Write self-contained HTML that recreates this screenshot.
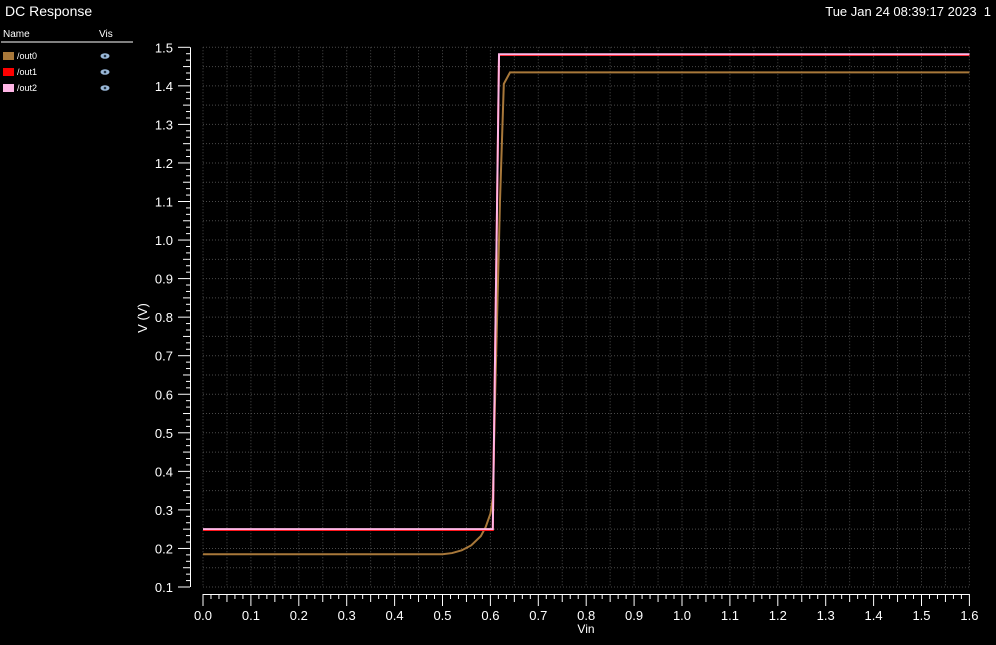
<!DOCTYPE html>
<html><head><meta charset="utf-8"><style>
body{margin:0;background:#000;width:996px;height:640px;overflow:hidden;font-family:"Liberation Sans",sans-serif;color:#fff}
</style></head><body>
<svg width="996" height="640" xmlns="http://www.w3.org/2000/svg">
<text x="5" y="16" font-size="14" fill="#fff">DC Response</text>
<text x="991" y="16" font-size="13" fill="#fff" text-anchor="end" xml:space="preserve" style="white-space:pre">Tue Jan 24 08:39:17 2023  1</text>
<g>
<text x="3" y="37" font-size="10" fill="#fff">Name</text>
<text x="99" y="37" font-size="10" fill="#fff">Vis</text>
<line x1="1" y1="42" x2="133" y2="42" stroke="#fff" stroke-width="1"/>
<g id="leg"></g>
</g>
<g id="grid"></g><g id="axes"></g><g id="series"></g>
<text x="586" y="633" font-size="12" fill="#fff" text-anchor="middle">Vin</text>
<text x="147" y="318" font-size="13" fill="#fff" text-anchor="middle" transform="rotate(-90 147 318)">V (V)</text>
</svg>
<script>
const xTicks=[0,0.1,0.2,0.3,0.4,0.5,0.6,0.7,0.8,0.9,1.0,1.1,1.2,1.3,1.4,1.5,1.6];
const yTicks=[0.1,0.2,0.3,0.4,0.5,0.6,0.7,0.8,0.9,1.0,1.1,1.2,1.3,1.4,1.5];
const out0X=[0,0.5,0.52,0.54,0.56,0.58,0.59,0.6,0.605,0.61,0.62,0.628,0.641,1.6];
const out0Y=[0.185,0.185,0.188,0.195,0.208,0.232,0.255,0.29,0.33,0.6,1.1,1.405,1.435,1.435];
const out1X=[0,0.605,0.618,1.6];
const out1Y=[0.248,0.248,1.48,1.48];
const out2X=[0,0.605,0.618,1.6];
const out2Y=[0.25,0.25,1.482,1.482];
const legNames=["/out0","/out1","/out2"];
const legColors=["#a8783a","#ff0000","#ffb6e6"];
const NS="http://www.w3.org/2000/svg";
const X=v=>203+v*479; const Y=v=>587-(v-0.1)*385.5;
function mk(t,a,p){const e=document.createElementNS(NS,t);for(const k in a)e.setAttribute(k,a[k]);p.appendChild(e);return e;}
const grid=document.getElementById('grid'),axes=document.getElementById('axes'),ser=document.getElementById('series'),leg=document.getElementById('leg');
legNames.forEach((n,i)=>{const y=56+i*16;
 const r=mk('rect',{x:3,y:y-4,width:11,height:8,fill:legColors[i]},leg);
 
 const t=mk('text',{x:17,y:y+3,'font-size':9,fill:'#fff'},leg);t.textContent=n;
 
 const e=mk('ellipse',{cx:105,cy:y,rx:4.5,ry:2.8,fill:'#9ab8d8'},leg);
 
 mk('circle',{cx:105,cy:y,r:1.3,fill:'#234'},leg);
});
const x0=X(0),x1=X(1.6),yT=Y(1.5),yB=Y(0.1);
for(let v=0;v<=1.6001;v+=0.05){const l=mk('line',{x1:X(v),x2:X(v),y1:yT,y2:yB,stroke:'#4a4a4a','stroke-dasharray':'1 2'},grid);}
for(let v=0.1;v<=1.5001;v+=0.05){const l=mk('line',{x1:x0,x2:x1,y1:Y(v),y2:Y(v),stroke:'#4a4a4a','stroke-dasharray':'1 2'},grid);}
const xa=mk('line',{x1:x0,x2:x1,y1:594.5,y2:594.5,stroke:'#fff'},axes);
const ya=mk('line',{x1:190.5,x2:190.5,y1:yT,y2:yB,stroke:'#fff'},axes);
for(let i=0;i<=96;i++){const v=i*1.6/96;const len=i%6==0?12:(i%3==0?8:5);mk('line',{x1:X(v),x2:X(v),y1:594,y2:594+len,stroke:'#fff'},axes);}
for(let i=0;i<=84;i++){const v=0.1+i*1.4/84;const len=i%6==0?12:(i%3==0?7:4);mk('line',{x1:190,x2:190-len,y1:Y(v),y2:Y(v),stroke:'#fff'},axes);}
xTicks.forEach(v=>{const t=mk('text',{x:X(v),y:620,'font-size':13,fill:'#fff','text-anchor':'middle'},axes);t.textContent=v.toFixed(1);});
yTicks.forEach(v=>{const t=mk('text',{x:173,y:Y(v)+5,'font-size':13,fill:'#fff','text-anchor':'end'},axes);t.textContent=v.toFixed(1);});
function line(xs,ys,c,w,name){const p=mk('polyline',{points:xs.map((x,i)=>X(x)+','+Y(ys[i])).join(' '),fill:'none',stroke:c,'stroke-width':w},ser);}
line(out0X,out0Y,legColors[0],2,'series-out0');
line(out1X,out1Y,legColors[1],2,'series-out1');
line(out2X,out2Y,legColors[2],2,'series-out2');
</script>
</body></html>
